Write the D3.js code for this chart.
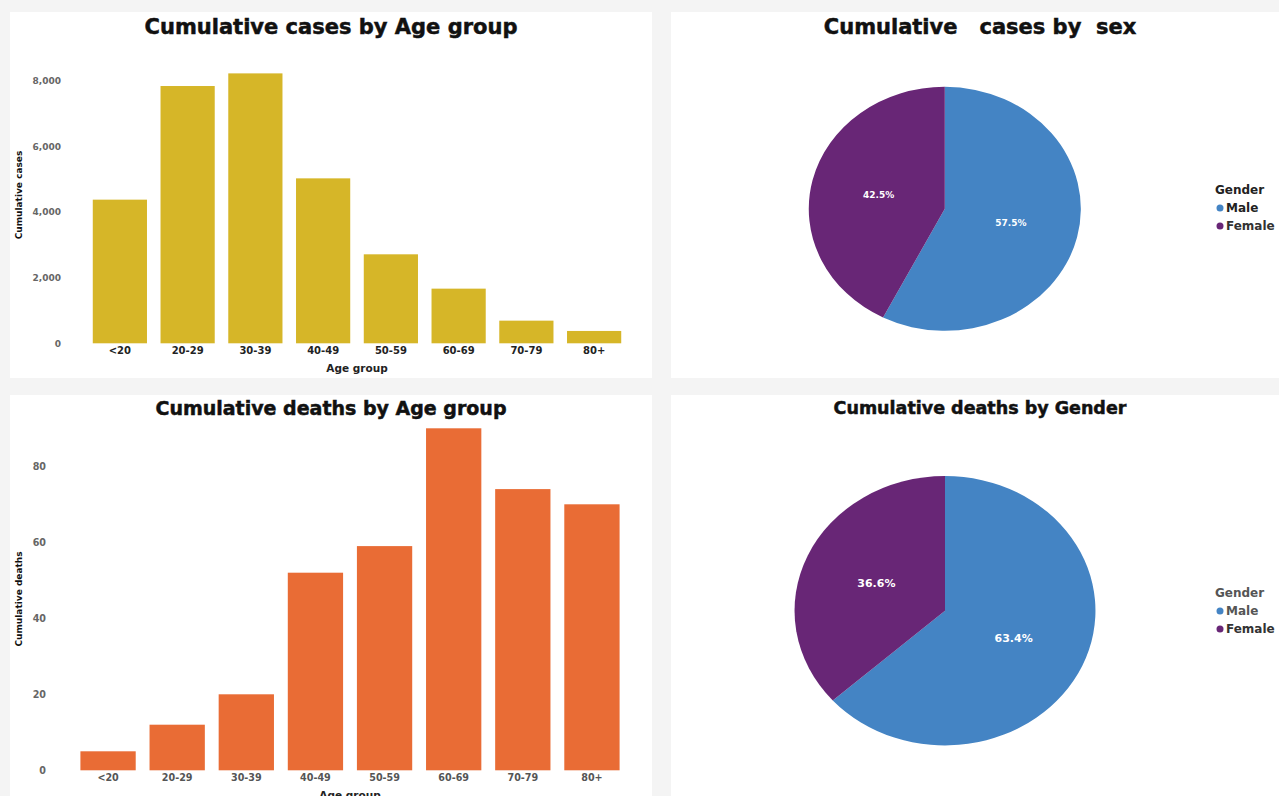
<!DOCTYPE html>
<html>
<head>
<meta charset="utf-8">
<script src="https://cdn.jsdelivr.net/npm/d3@7"></script>
<style>
  html, body { margin: 0; padding: 0; background: #f4f4f4; }
  svg { display: block; font-family: "DejaVu Sans", sans-serif; }
  svg text { font-family: "DejaVu Sans", sans-serif; }
  .title { font-weight: bold; fill: #111; stroke: #111; stroke-width: 0.5px; white-space: pre; }
</style>
</head>
<body>
<svg id="chart" width="1279" height="796"></svg>
<script>
// data
const ageGroups = ["<20", "20-29", "30-39", "40-49", "50-59", "60-69", "70-79", "80+"];
const casesByAge = [4376, 7838, 8223, 5025, 2711, 1665, 690, 376];
const deathsByAge = [5, 12, 20, 52, 59, 90, 74, 70];
const genders = ["Male", "Female"];
const casesBySex = [57.5, 42.5];
const deathsBySex = [63.4, 36.6];
const caseTicks = [0, 2000, 4000, 6000, 8000];
const deathTicks = [0, 20, 40, 60, 80];

const svg = d3.select("#chart");
const genderColor = d3.scaleOrdinal().domain(genders).range(["#4484c4", "#682676"]);

// white panels
const panels = [
  {x: 10, y: 12, w: 642, h: 366},
  {x: 10, y: 395, w: 642, h: 410},
  {x: 671, y: 12, w: 620, h: 366},
  {x: 671, y: 395, w: 620, h: 410}
];
svg.selectAll("rect.panel").data(panels).enter().append("rect")
  .attr("class", "panel")
  .attr("x", d => d.x).attr("y", d => d.y)
  .attr("width", d => d.w).attr("height", d => d.h)
  .attr("fill", "#fff");

function barChart(o) {
  const g = svg.append("g");
  const x = d3.scaleBand().domain(ageGroups).range(o.xr).paddingInner(0.2).paddingOuter(0.1);
  const y = d3.scaleLinear().domain([0, o.max]).range(o.yr);

  g.selectAll("rect.bar").data(o.values).enter().append("rect")
    .attr("class", "bar")
    .attr("x", (d, i) => x(ageGroups[i]))
    .attr("width", x.bandwidth())
    .attr("y", d => y(d))
    .attr("height", d => y(0) - y(d))
    .attr("fill", o.color);

  const yAxis = g.append("g")
    .attr("transform", `translate(${o.yTickX},0)`)
    .call(d3.axisLeft(y).tickValues(o.ticks).tickSize(0).tickPadding(0).tickFormat(d3.format(",")));
  yAxis.select(".domain").remove();
  yAxis.selectAll("text")
    .attr("fill", "#666").attr("font-weight", "bold")
    .attr("font-size", o.yTickSize).attr("font-family", "DejaVu Sans, sans-serif");

  const xAxis = g.append("g")
    .attr("transform", `translate(0,${o.yr[0]})`)
    .call(d3.axisBottom(x).tickSize(0).tickPadding(4));
  xAxis.select(".domain").remove();
  xAxis.selectAll("text")
    .attr("fill", o.xTickColor).attr("font-weight", "bold")
    .attr("font-size", o.xTickSize).attr("font-family", "DejaVu Sans, sans-serif");

  g.append("text").text("Age group")
    .attr("x", (o.xr[0] + o.xr[1]) / 2).attr("y", o.xLabelY)
    .attr("text-anchor", "middle").attr("font-weight", "bold")
    .attr("font-size", 10.5).attr("fill", "#222");

  g.append("text").text(o.yLabel)
    .attr("transform", `translate(22,${o.yLabelY}) rotate(-90)`)
    .attr("text-anchor", "middle").attr("font-weight", "bold")
    .attr("font-size", 9).attr("fill", "#111");

  g.append("text").attr("class", "title").text(o.title)
    .attr("x", 331).attr("y", o.titleY)
    .attr("text-anchor", "middle").attr("font-size", o.titleSize);
}

function pieChart(o) {
  const g = svg.append("g");
  const pie = d3.pie().sort(null);
  const arcs = pie(o.values);
  const arc = d3.arc().innerRadius(0).outerRadius(o.r);
  const pg = g.append("g").attr("transform", `translate(${o.cx},${o.cy}) scale(${o.sx},1)`);
  pg.selectAll("path").data(arcs).enter().append("path")
    .attr("d", arc)
    .attr("fill", (d, i) => genderColor(genders[i]));
  const lg = g.append("g").attr("transform", `translate(${o.cx},${o.cy})`);
  lg.selectAll("text").data(arcs).enter().append("text")
    .attr("x", d => arc.centroid(d)[0] * o.sx)
    .attr("y", d => arc.centroid(d)[1])
    .attr("dy", "0.35em")
    .attr("text-anchor", "middle")
    .attr("fill", "#fff").attr("font-weight", "bold").attr("font-size", o.labelSize)
    .text(d => d3.format(".1f")(d.data) + "%");

  g.append("text").attr("class", "title").text(o.title)
    .attr("x", 980).attr("y", o.titleY)
    .attr("text-anchor", "middle").attr("font-size", o.titleSize);

  const leg = g.append("g").attr("transform", `translate(1215,${o.legY})`);
  leg.append("text").text("Gender")
    .attr("y", 0).attr("font-weight", "bold").attr("font-size", 12).attr("fill", o.legColor);
  const items = leg.selectAll("g.item").data(genders).enter().append("g")
    .attr("class", "item")
    .attr("transform", (d, i) => `translate(0,${18 + i * 18})`);
  items.append("circle").attr("cx", 5).attr("cy", -4).attr("r", 3.5).attr("fill", d => genderColor(d));
  items.append("text").text(d => d)
    .attr("x", 11).attr("font-weight", "bold").attr("font-size", 12)
    .attr("fill", (d, i) => i === 0 ? o.legColor : "#333");
}

barChart({
  values: casesByAge, max: 8000, ticks: caseTicks, color: "#d6b628",
  xr: [86, 628], yr: [343.3, 80.7], yTickX: 61, yTickSize: 9, xTickSize: 10,
  xTickColor: "#222", xLabelY: 372, yLabel: "Cumulative cases", yLabelY: 195,
  title: "Cumulative cases by Age group", titleY: 34, titleSize: 21
});

barChart({
  values: deathsByAge, max: 80, ticks: deathTicks, color: "#e96c35",
  xr: [73.5, 626.5], yr: [770.3, 466.3], yTickX: 46, yTickSize: 9.6, xTickSize: 9.6,
  xTickColor: "#555", xLabelY: 799, yLabel: "Cumulative deaths", yLabelY: 599,
  title: "Cumulative deaths by Age group", titleY: 415, titleSize: 19
});

pieChart({
  values: casesBySex, cx: 944.8, cy: 208.8, r: 122, sx: 1.115, labelSize: 9,
  title: "Cumulative   cases by  sex", titleY: 34, titleSize: 21,
  legY: 194, legColor: "#222"
});

pieChart({
  values: deathsBySex, cx: 945, cy: 610.7, r: 134.7, sx: 1.117, labelSize: 11,
  title: "Cumulative deaths by Gender", titleY: 414, titleSize: 17.5,
  legY: 597, legColor: "#555"
});
</script>
</body>
</html>
